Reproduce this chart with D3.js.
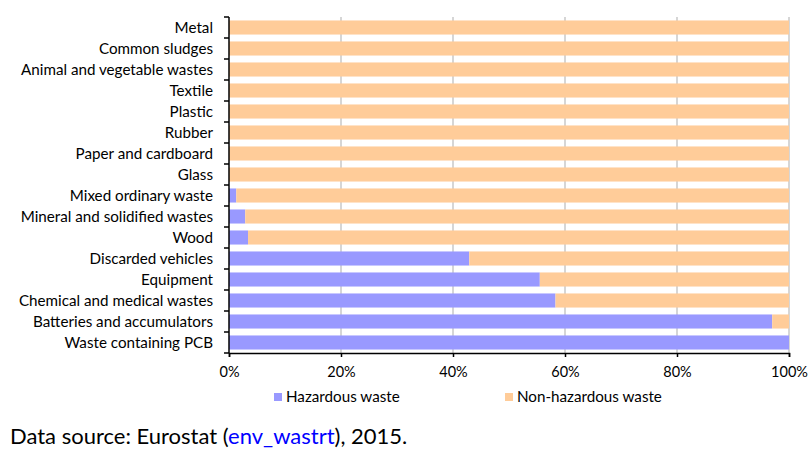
<!DOCTYPE html>
<html>
<head>
<meta charset="utf-8">
<script src="https://cdn.jsdelivr.net/npm/d3@7"></script>
<style>
  html, body { margin: 0; padding: 0; background: #fff; }
  svg { display: block; font-family: Lato, "Open Sans", sans-serif; }
</style>
</head>
<body>
<svg id="chart" width="809" height="450"></svg>
<script>
// Waste categories, listed top to bottom
const categories = [
  "Metal", "Common sludges", "Animal and vegetable wastes", "Textile",
  "Plastic", "Rubber", "Paper and cardboard", "Glass",
  "Mixed ordinary waste", "Mineral and solidified wastes", "Wood",
  "Discarded vehicles", "Equipment", "Chemical and medical wastes",
  "Batteries and accumulators", "Waste containing PCB"
];
// Share of hazardous waste in each category (%)
const hazardous = [0, 0, 0, 0, 0, 0, 0, 0, 1.3, 2.9, 3.4, 42.9, 55.5, 58.3, 97.0, 100];
// Share of non-hazardous waste (%)
const nonHazardous = hazardous.map(h => 100 - h);
const seriesNames = ["Hazardous waste", "Non-hazardous waste"];
const seriesColors = ["#9999ff", "#ffcc99"];
const xTicks = [0, 20, 40, 60, 80, 100];

const svg = d3.select("#chart");
const margin = { left: 229, right: 20, top: 17, bottom: 97 };
const W = 809, H = 450;
const x = d3.scaleLinear().domain([0, 100]).range([margin.left, W - margin.right]);
const y = d3.scaleBand().domain(categories).range([margin.top, H - margin.bottom]).paddingInner(0.33).paddingOuter(0.165);

// vertical gridlines
svg.append("g").selectAll("line").data(xTicks.slice(1)).join("line")
  .attr("x1", d => x(d)).attr("x2", d => x(d))
  .attr("y1", margin.top).attr("y2", H - margin.bottom)
  .attr("stroke", "#c0c0c0").attr("stroke-width", 1.3);

const rows = categories.map((c, i) => ({ cat: c, haz: hazardous[i], non: nonHazardous[i] }));
const stack = d3.stack().keys(["haz", "non"])(rows);

svg.append("g").selectAll("g").data(stack).join("g")
  .attr("fill", (d, i) => seriesColors[i])
  .selectAll("rect").data(d => d).join("rect")
  .attr("x", d => x(d[0]))
  .attr("width", d => Math.max(0, x(d[1]) - x(d[0])))
  .attr("y", d => y(d.data.cat))
  .attr("height", y.bandwidth());

// x axis
const xAxis = svg.append("g")
  .attr("transform", `translate(0,${H - margin.bottom})`)
  .call(d3.axisBottom(x).tickValues(xTicks).tickFormat(d => d + "%").tickSize(4).tickPadding(10));
xAxis.select(".domain").attr("stroke", "#000").attr("stroke-width", 1.5);
xAxis.selectAll(".tick line").attr("stroke", "#000").attr("stroke-width", 1.5);
xAxis.selectAll("text").attr("font-size", 14.5).attr("fill", "#000").attr("font-family", "Lato, sans-serif");

// y axis: line plus ticks at the band boundaries
const yAxisG = svg.append("g");
yAxisG.append("line")
  .attr("x1", margin.left).attr("x2", margin.left)
  .attr("y1", margin.top).attr("y2", H - margin.bottom)
  .attr("stroke", "#000").attr("stroke-width", 1.5);
const bounds = d3.range(categories.length + 1).map(i => margin.top + i * (H - margin.top - margin.bottom) / categories.length);
yAxisG.selectAll(".yt").data(bounds).join("line")
  .attr("x1", margin.left - 5).attr("x2", margin.left)
  .attr("y1", d => d).attr("y2", d => d)
  .attr("stroke", "#000").attr("stroke-width", 1.5);
yAxisG.selectAll("text").data(categories).join("text")
  .attr("x", margin.left - 16)
  .attr("y", d => y(d) + y.bandwidth() / 2)
  .attr("dy", "0.35em")
  .attr("text-anchor", "end")
  .attr("font-size", 15.2)
  .attr("fill", "#000")
  .text(d => d);

// legend
const legendX = [274, 505];
const lg = svg.append("g").selectAll("g").data(seriesNames).join("g")
  .attr("transform", (d, i) => `translate(${legendX[i]},393)`);
lg.append("rect").attr("width", 8).attr("height", 8).attr("fill", (d, i) => seriesColors[i]);
lg.append("text").attr("x", 12).attr("y", 4).attr("dy", "0.35em")
  .attr("font-size", 15.2).attr("fill", "#000").text(d => d);

// source note
const note = svg.append("text").attr("x", 10).attr("y", 444)
  .attr("font-size", 22).attr("fill", "#000");
note.append("tspan").text("Data source: Eurostat (");
note.append("tspan").attr("fill", "#0000ff").text("env_wastrt");
note.append("tspan").text("), 2015.");
</script>
</body>
</html>
